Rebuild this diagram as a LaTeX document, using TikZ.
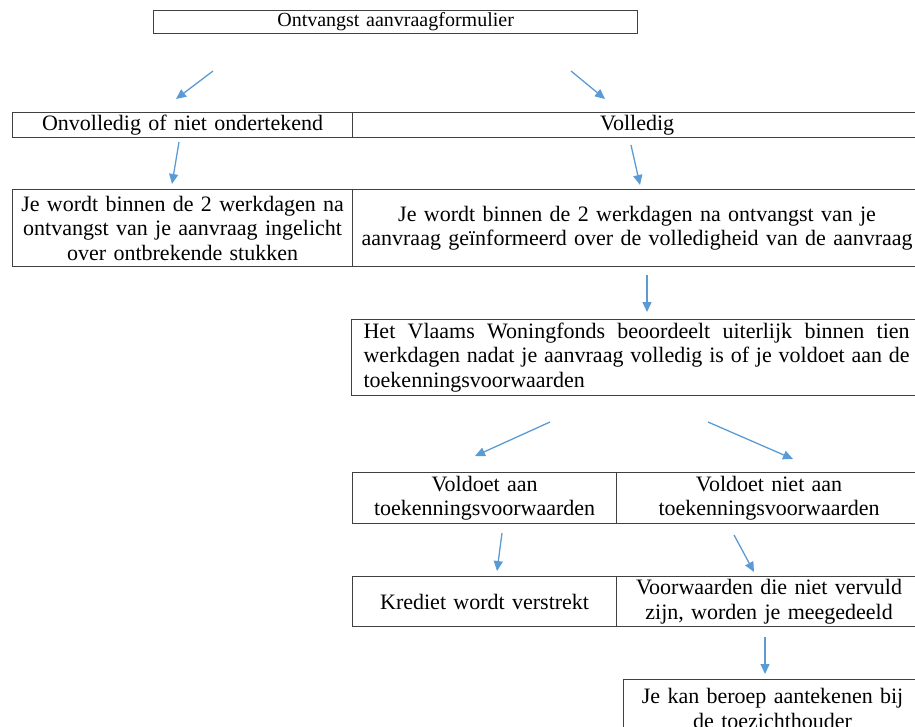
\documentclass[tikz,border=0pt]{standalone}
\usepackage{fontspec}
\setmainfont{Liberation Serif}
\usepackage{tikz}
\usetikzlibrary{arrows.meta}
\definecolor{pijlblauw}{RGB}{91,155,213}

\begin{document}
\begin{tikzpicture}[x=1pt,y=-1pt,>={Triangle[length=10pt,width=9pt]},line width=1.2pt]
\tikzstyle{blok}=[draw=black!75,anchor=north west,inner xsep=6pt,inner ysep=0pt,align=center,font=\fontsize{22}{24.5}\selectfont]
\tikzstyle{pijl}=[->,draw=pijlblauw,line width=1.3pt]
\useasboundingbox (0,0) rectangle (915,726);
\node[blok,font=\fontsize{20}{22}\selectfont,text width=472pt,minimum height=23pt] (A) at (153,10) {Ontvangst aanvraagformulier};
\node[blok,text width=328pt,minimum height=25pt] (B) at (12,112) {Onvolledig of niet ondertekend};
\node[blok,text width=557pt,minimum height=25pt] (C) at (352,112) {Volledig};
\node[blok,text width=328pt,minimum height=77pt] (D) at (12,189) {Je wordt binnen de 2 werkdagen na\\ontvangst van je aanvraag ingelicht\\over ontbrekende stukken};
\node[blok,text width=557pt,minimum height=77pt] (E) at (352,189) {Je wordt binnen de 2 werkdagen na ontvangst van je\\aanvraag geïnformeerd over de volledigheid van de aanvraag};
\node[blok,inner xsep=12pt,text width=546pt,minimum height=76pt,align=justify] (F) at (351,319) {Het Vlaams Woningfonds beoordeelt uiterlijk binnen tien\linebreak werkdagen nadat je aanvraag volledig is of je voldoet aan de\linebreak toekenningsvoorwaarden};
\node[blok,text width=252pt,minimum height=51pt] (G) at (352,472) {Voldoet aan\\toekenningsvoorwaarden};
\node[blok,text width=293pt,minimum height=51pt] (H) at (616,472) {Voldoet niet aan\\toekenningsvoorwaarden};
\node[blok,text width=252pt,minimum height=50pt] (I) at (352,576) {Krediet wordt verstrekt};
\node[blok,text width=293pt,minimum height=50pt] (J) at (616,576) {Voorwaarden die niet vervuld\\zijn, worden je meegedeeld};
\node[blok,text width=286pt,minimum height=58pt] (K) at (623,679) {Je kan beroep aantekenen bij\\de toezichthouder};
% losse pijlen tussen de blokken
\coordinate (a1) at (213,71);  \coordinate (b1) at (176,99);
\coordinate (a2) at (571,71);  \coordinate (b2) at (605,99);
\coordinate (a3) at (179,142); \coordinate (b3) at (172,184);
\coordinate (a4) at (631,145); \coordinate (b4) at (640,185);
\coordinate (a5) at (647,275); \coordinate (b5) at (647,312);
\coordinate (a6) at (550,422); \coordinate (b6) at (475,456);
\coordinate (a7) at (708,422); \coordinate (b7) at (793,459);
\coordinate (a8) at (502,533); \coordinate (b8) at (497,571);
\coordinate (a9) at (734,535); \coordinate (b9) at (754,572);
\coordinate (a10) at (765,637); \coordinate (b10) at (765,674);
\path (a1) edge[pijl] (b1)
      (a2) edge[pijl] (b2)
      (a3) edge[pijl] (b3)
      (a4) edge[pijl] (b4)
      (a5) edge[pijl] (b5)
      (a6) edge[pijl] (b6)
      (a7) edge[pijl] (b7)
      (a8) edge[pijl] (b8)
      (a9) edge[pijl] (b9)
      (a10) edge[pijl] (b10);
\end{tikzpicture}
\end{document}
